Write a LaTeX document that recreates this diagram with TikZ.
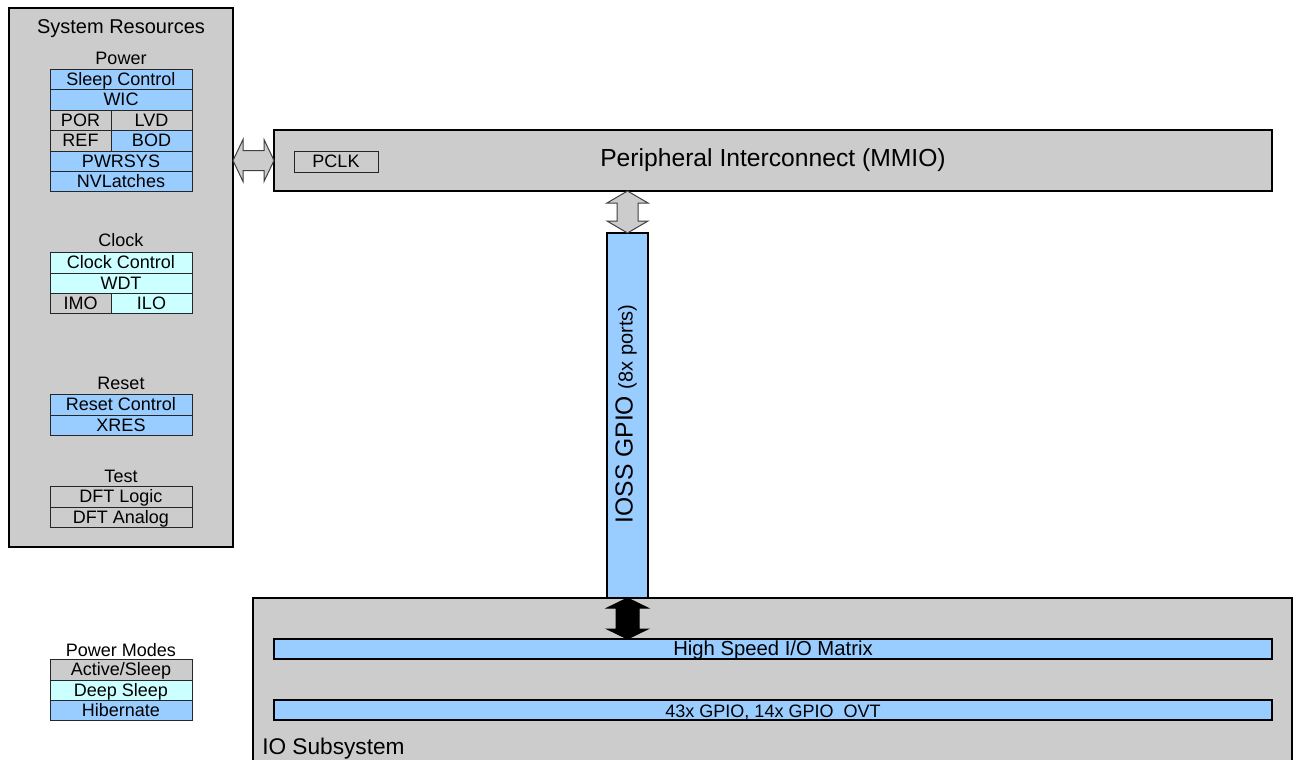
\documentclass[tikz,border=0pt]{standalone}
\usepackage{fontspec}
\setmainfont{Liberation Sans}
\usetikzlibrary{calc}

\definecolor{blockgray}{HTML}{CCCCCC}
\definecolor{hibblue}{HTML}{99CCFF}
\definecolor{deepcyan}{HTML}{CCFFFF}

\newcommand\fs[1]{\fontsize{#1}{#1}\selectfont}

\tikzset{
  block/.style={draw=black, line width=1.5pt, fill=blockgray, inner sep=0pt, outer sep=0pt},
  cell/.style={draw=black!85, line width=0.75pt, inner sep=0pt, outer sep=0pt,
               text height=9.9pt, text depth=0.6pt, font=\fs{13.5}},
  gcell/.style={cell, fill=blockgray},
  bcell/.style={cell, fill=hibblue},
  ccell/.style={cell, fill=deepcyan},
  bar/.style={bcell, draw=black, line width=1.5pt},
  grouplabel/.style={inner sep=0pt, font=\fs{13.5}},
  busarrow/.style={draw=black!75, line width=0.75pt, fill=blockgray, line join=miter},
  hsarrow/.style={draw=black, line width=0.75pt, fill=black, line join=miter},
}

% name, style, x1, y1, x2, y2, text  (corners in pixel units)
\newcommand\boxat[7]{%
  \node[#2, anchor=north west, minimum width={(#5-#3)*0.75pt},
        minimum height={(#6-#4)*0.75pt}] (#1) at (#3,#4) {#7};}

\begin{document}
\begin{tikzpicture}[x=0.75pt, y=-0.75pt]
\clip (0,0) rectangle (1293,760);
\fill[white] (0,0) rectangle (1293,760);

% ---------------- System Resources ----------------
\boxat{sr}{block}{9}{8}{233}{547}{}
\node[inner sep=0pt, font=\fs{15}] (srtitle) at (121,29) {System Resources};

\node[grouplabel] (powerlbl) at (121,58) {Power};
\boxat{sleepctl}{bcell}{50}{69}{192}{89}{Sleep Control}
\boxat{wic}{bcell}{50}{89}{192}{110}{WIC}
\boxat{por}{gcell}{50}{110}{111}{130}{POR}
\boxat{lvd}{gcell}{111}{110}{192}{130}{LVD}
\boxat{ref}{gcell}{50}{130}{111}{151}{REF}
\boxat{bod}{bcell}{111}{130}{192}{151}{BOD}
\boxat{pwrsys}{bcell}{50}{151}{192}{171}{PWRSYS}
\boxat{nvl}{bcell}{50}{171}{192}{191}{NVLatches}

\node[grouplabel] (clocklbl) at (121,240) {Clock};
\boxat{clkctl}{ccell}{50}{252}{192}{273}{Clock Control}
\boxat{wdt}{ccell}{50}{273}{192}{293}{WDT}
\boxat{imo}{gcell}{50}{293}{111}{313}{IMO}
\boxat{ilo}{ccell}{111}{293}{192}{313}{ILO}

\node[grouplabel] (resetlbl) at (121,383) {Reset};
\boxat{rstctl}{bcell}{50}{394}{192}{415}{Reset Control}
\boxat{xres}{bcell}{50}{415}{192}{435}{XRES}

\node[grouplabel] (testlbl) at (121,476) {Test};
\boxat{dftl}{gcell}{50}{486}{192}{507}{DFT Logic}
\boxat{dfta}{gcell}{50}{507}{192}{527}{DFT Analog}

% ---------------- Legend ----------------
\node[grouplabel] (modeslbl) at (121,650) {Power Modes};
\boxat{mactive}{gcell}{50}{659}{192}{680}{Active/Sleep}
\boxat{mdeep}{ccell}{50}{680}{192}{700}{Deep Sleep}
\boxat{mhib}{bcell}{50}{700}{192}{720}{Hibernate}

% ---------------- Peripheral Interconnect ----------------
\boxat{pi}{block, font=\fs{18.5}}{274}{130}{1272}{191}{Peripheral Interconnect (MMIO)}
\boxat{pclk}{gcell}{294}{151}{378}{172}{PCLK}

% ---------------- IO Subsystem ----------------
\boxat{ios}{block}{253}{598}{1292}{775}{}
\node[anchor=base west, inner sep=0pt, font=\fs{17}] (ioslbl) at (262,754) {IO Subsystem};
\boxat{hsm}{bar, font=\fs{15.2}}{274}{639}{1272}{659}{High Speed I/O Matrix}
\boxat{gpiobar}{bar, text height=11.9pt}{274}{700}{1272}{720}{43x GPIO, 14x GPIO\_OVT}

% ---------------- IOSS GPIO column ----------------
\boxat{gpio}{block, fill=hibblue}{607}{233}{648}{598}{}
\node[rotate=90, inner sep=0pt] (gpiotext) at (626,414)
  {\fs{18.5}IOSS GPIO \fs{15}(8x ports)};

% ---------------- Bus arrows ----------------
\coordinate (la) at (sr.east |- pi.west);
\coordinate (lb) at (pi.west);
\draw[busarrow] (la) -- ++(10,-21) -- ++(0,11) -- ($(lb)+(-10,-10)$) -- ++(0,-11)
  -- (lb) -- ++(-10,21) -- ++(0,-11) -- ($(la)+(10,10)$) -- ++(0,11) -- cycle;

\coordinate (ta) at (pi.south -| gpio.north);
\coordinate (tb) at (gpio.north);
\draw[busarrow] (ta) -- ++(20.5,12) -- ++(-10,0) -- ($(tb)+(10.5,-12)$) -- ++(10,0)
  -- (tb) -- ++(-20.5,-12) -- ++(10,0) -- ($(ta)+(-10.5,12)$) -- ++(-10,0) -- cycle;

\coordinate (ba) at (gpio.south);
\coordinate (bb) at (hsm.north -| gpio.south);
\draw[hsarrow] (ba) -- ++(20.5,10) -- ++(-9,0) -- ($(bb)+(11.5,-10)$) -- ++(9,0)
  -- (bb) -- ++(-20.5,-10) -- ++(9,0) -- ($(ba)+(-11.5,10)$) -- ++(-9,0) -- cycle;
\end{tikzpicture}
\end{document}
